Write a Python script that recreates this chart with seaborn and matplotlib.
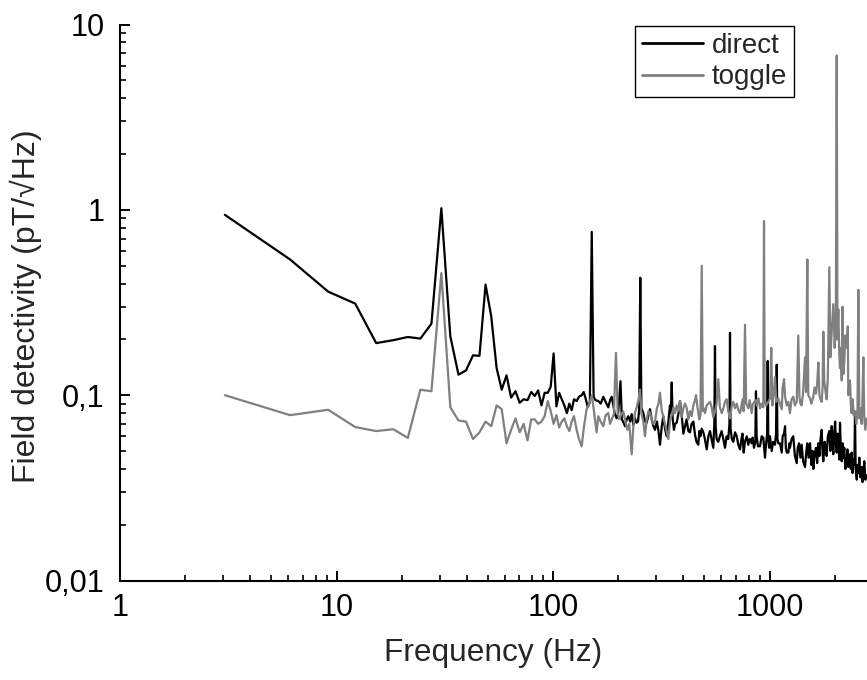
import numpy as np
import pandas as pd
import matplotlib
matplotlib.use("Agg")
import matplotlib.pyplot as plt
import matplotlib.ticker as mticker
import seaborn as sns

# ---------------- data ----------------
freq_direct = [
    3.05, 6.1, 9.15, 12.2, 15.25, 18.3, 21.35, 24.4, 27.45, 30.5, 33.55, 36.6, 39.65, 42.7,
    45.75, 48.8, 51.85, 54.9, 57.95, 61.0, 64.05, 67.1, 70.15, 73.2, 76.25, 79.3, 82.35,
    85.4, 88.45, 91.5, 94.55, 97.6, 100.65, 103.7, 106.75, 109.8, 112.85, 115.9, 119, 122,
    125, 128.6, 131.8, 135.7, 138.6, 141.5, 144.7, 148, 151, 154, 157, 161.9, 166, 170.8,
    175, 180, 183.5, 186.7, 190, 193, 196.8, 200, 205, 208, 212, 215, 219, 222.7, 227, 231,
    234.9, 239, 243, 247, 250, 253, 256, 261.4, 266, 270.9, 276, 280.5, 285.7, 291, 295.9,
    302, 307, 312, 318, 323, 329, 335, 341, 347, 350, 353.5, 357, 362, 366, 372.8, 380, 386,
    393, 400, 407, 414, 422, 429, 437, 445, 453, 460, 469, 474, 480, 486, 494.6, 503, 512.8,
    522, 531, 540, 550, 556, 560, 564, 570, 580, 590, 601, 612, 623, 634, 645, 653, 657, 661,
    670, 680.7, 693, 705.6, 718, 730.8, 742, 750, 760, 770, 785, 798, 810, 827, 836, 848,
    860, 866, 872, 885, 904, 920, 936, 953, 965, 975, 981, 987, 996, 1005, 1024, 1040, 1060,
    1072, 1080, 1088, 1098, 1118, 1139, 1150, 1167, 1180, 1190, 1201, 1222, 1235, 1243, 1265,
    1288, 1310, 1336, 1350, 1370, 1390, 1408, 1430, 1459, 1480, 1495, 1515, 1539, 1560, 1580,
    1594, 1615, 1640, 1660, 1681, 1700, 1720, 1742, 1760, 1772, 1800, 1820, 1837, 1860, 1889,
    1910, 1938, 1955, 1971, 1990, 2010, 2030, 2044, 2060, 2079, 2100, 2117, 2135, 2156, 2175,
    2193, 2215, 2240, 2273, 2290, 2312, 2330, 2354, 2375, 2397, 2420, 2445, 2465, 2483, 2500,
    2530, 2550, 2572, 2600, 2630, 2667, 2690, 2713, 2740, 2770, 2812,
]
val_direct = [
    0.94, 0.54, 0.362, 0.312, 0.191, 0.198, 0.206, 0.202, 0.243, 1.02, 0.208, 0.129, 0.136, 0.164,
    0.163, 0.395, 0.266, 0.140, 0.107, 0.128, 0.097, 0.105, 0.091, 0.095, 0.094, 0.104, 0.099,
    0.106, 0.088, 0.103, 0.103, 0.111, 0.168, 0.087, 0.103, 0.095, 0.088, 0.080, 0.090, 0.083,
    0.095, 0.093, 0.098, 0.100, 0.104, 0.096, 0.086, 0.092, 0.76, 0.098, 0.094, 0.093, 0.090, 0.098,
    0.092, 0.086, 0.094, 0.098, 0.088, 0.079, 0.075, 0.080, 0.119, 0.074, 0.071, 0.068, 0.074, 0.077, 0.072, 0.079,
    0.069, 0.075, 0.071, 0.072, 0.083, 0.43, 0.085, 0.080, 0.072, 0.071, 0.078, 0.084, 0.074, 0.068, 0.065,
    0.072, 0.064, 0.054, 0.068, 0.077, 0.066, 0.060, 0.072, 0.088, 0.080, 0.117, 0.075, 0.065, 0.070, 0.071, 0.080, 0.093,
    0.078, 0.062, 0.068, 0.074, 0.064, 0.063, 0.070, 0.072, 0.061, 0.056, 0.054, 0.064, 0.060, 0.066, 0.063, 0.058, 0.051,
    0.060, 0.064, 0.058, 0.052, 0.070, 0.184, 0.068, 0.058, 0.056, 0.060, 0.064, 0.058, 0.052, 0.060, 0.058, 0.070, 0.217, 0.066,
    0.058, 0.056, 0.063, 0.060, 0.054, 0.051, 0.058, 0.062, 0.049, 0.056, 0.060, 0.054, 0.058, 0.055, 0.059, 0.052,
    0.056, 0.105, 0.060, 0.053, 0.053, 0.060, 0.059, 0.046, 0.055, 0.062, 0.153, 0.060, 0.052, 0.060, 0.050, 0.056, 0.054,
    0.062, 0.146, 0.058, 0.055, 0.055, 0.049, 0.060, 0.062, 0.068, 0.052, 0.049, 0.049, 0.055, 0.052, 0.058,
    0.060, 0.047, 0.043, 0.052, 0.055, 0.046, 0.054, 0.044, 0.041, 0.050, 0.055, 0.046, 0.055, 0.042, 0.050,
    0.040, 0.048, 0.052, 0.043, 0.055, 0.047, 0.058, 0.065, 0.048, 0.044, 0.056, 0.050, 0.047, 0.060, 0.064,
    0.050, 0.068, 0.056, 0.048, 0.062, 0.072, 0.052, 0.049, 0.062, 0.058, 0.045, 0.071, 0.050, 0.044, 0.055,
    0.046, 0.052, 0.040, 0.043, 0.051, 0.041, 0.048, 0.046, 0.040, 0.049, 0.038, 0.045, 0.042, 0.080, 0.040,
    0.035, 0.042, 0.038, 0.046, 0.036, 0.041, 0.034, 0.037, 0.044, 0.035, 0.037,
]

freq_toggle = [
    3.05, 6.1, 9.15, 12.2, 15.25, 18.3, 21.35, 24.4, 27.45, 30.5, 33.55, 36.6, 39.65, 42.7,
    45.75, 48.8, 51.85, 54.9, 57.95, 61.0, 64.05, 67.1, 70.15, 73.2, 76.25, 79.3, 82.35,
    85.4, 88.45, 91.5, 94.55, 97.6, 100.65, 103.7, 106.75, 109.8, 112.85, 115.9, 119, 122,
    125, 128.6, 131.8, 135.7, 138.6, 143, 147, 151, 154, 159, 161.9, 166, 170.8, 175, 180,
    183.5, 186.7, 191, 195.4, 199, 202.4, 206, 211, 215, 220.4, 225, 231, 235, 239, 243.6,
    248, 252.3, 256, 261.4, 266, 270.9, 276, 280.5, 285.7, 291, 295.9, 302, 307, 312, 318,
    323, 329, 335, 341, 347, 353, 360, 366, 372.8, 380, 386, 393, 400, 407, 414, 422, 429,
    437, 445, 452.9, 457.7, 465, 474, 480, 486.3, 492, 498, 503.7, 512.8, 522, 531.1, 540.8,
    550, 560, 570, 580.2, 590, 601.5, 612, 623, 634.4, 645, 657.2, 670, 680, 693, 705.6, 718,
    730.8, 742, 752, 760, 770.7, 780, 798, 810, 827.6, 836, 850, 866, 872.9, 890, 903.9, 920,
    936, 943.3, 950, 965, 987.4, 1005, 1019, 1030, 1045, 1060, 1075, 1098, 1118, 1139, 1150,
    1167, 1180, 1201, 1222, 1243, 1265, 1288, 1310, 1336, 1358, 1375, 1390, 1408, 1430, 1459,
    1475, 1495, 1510, 1539, 1560, 1594, 1615, 1640, 1660, 1681, 1700, 1720, 1742, 1760, 1772,
    1790, 1815, 1837, 1860, 1889, 1910, 1938, 1971, 2000, 2025, 2044, 2060, 2079, 2100, 2117,
    2135, 2156, 2175, 2193, 2215, 2240, 2273, 2300, 2312, 2354, 2380, 2397, 2420, 2450, 2483,
    2520, 2550, 2572, 2600, 2630, 2667, 2690, 2713, 2740, 2770, 2812,
]
val_toggle = [
    0.100, 0.078, 0.0834, 0.0673, 0.064, 0.0655, 0.0588, 0.107, 0.105, 0.456, 0.086, 0.073, 0.072, 0.058,
    0.063, 0.072, 0.068, 0.088, 0.084, 0.055, 0.065, 0.075, 0.063, 0.070, 0.057, 0.074, 0.074,
    0.070, 0.072, 0.077, 0.093, 0.082, 0.070, 0.078, 0.067, 0.072, 0.075, 0.068, 0.064, 0.072,
    0.077, 0.065, 0.058, 0.053, 0.066, 0.084, 0.090, 0.100, 0.085, 0.063, 0.077, 0.072, 0.068, 0.078, 0.080,
    0.070, 0.074, 0.079, 0.169, 0.080, 0.074, 0.078, 0.082, 0.074, 0.065, 0.070, 0.048, 0.068, 0.080, 0.086,
    0.094, 0.107, 0.080, 0.072, 0.060, 0.074, 0.082, 0.080, 0.074, 0.070, 0.072, 0.085, 0.090, 0.103, 0.082,
    0.077, 0.070, 0.064, 0.058, 0.072, 0.078, 0.086, 0.080, 0.088, 0.082, 0.093, 0.076, 0.085, 0.090, 0.086, 0.074, 0.082,
    0.077, 0.088, 0.094, 0.100, 0.086, 0.074, 0.078, 0.50, 0.082, 0.085, 0.080, 0.088, 0.090, 0.092, 0.086,
    0.076, 0.082, 0.090, 0.122, 0.086, 0.080, 0.085, 0.092, 0.095, 0.082, 0.075, 0.088, 0.092, 0.085, 0.090, 0.083,
    0.080, 0.088, 0.095, 0.082, 0.24, 0.090, 0.085, 0.094, 0.080, 0.089, 0.092, 0.094, 0.088, 0.096, 0.085, 0.090,
    0.086, 0.87, 0.094, 0.088, 0.092, 0.096, 0.18, 0.088, 0.100, 0.125, 0.092, 0.096, 0.090, 0.084, 0.110,
    0.122, 0.098, 0.088, 0.092, 0.080, 0.095, 0.098, 0.088, 0.092, 0.21, 0.098, 0.090, 0.088, 0.104, 0.16,
    0.104, 0.54, 0.100, 0.096, 0.090, 0.098, 0.110, 0.102, 0.115, 0.15, 0.100, 0.095, 0.092, 0.112, 0.22,
    0.120, 0.104, 0.095, 0.125, 0.49, 0.160, 0.22, 0.31, 0.18, 0.24, 6.8, 0.20, 0.29, 0.17, 0.14,
    0.18, 0.12, 0.30, 0.13, 0.15, 0.21, 0.18, 0.235, 0.10, 0.12, 0.085, 0.080, 0.095, 0.078, 0.082,
    0.070, 0.085, 0.37, 0.075, 0.085, 0.070, 0.10, 0.16, 0.075, 0.065, 0.075,
]

series_labels = ["direct", "toggle"]
series_colors = ["#000000", "#808080"]
x_ticks = [1, 10, 100, 1000]
x_tick_labels = ["1", "10", "100", "1000"]
y_ticks = [0.01, 0.1, 1, 10]
y_tick_labels = ["0,01", "0,1", "1", "10"]
x_label = "Frequency (Hz)"
y_label = "Field detectivity (pT/\u221aHz)"

# ---------------- figure ----------------
sns.set_style("ticks")
plt.rcParams["font.family"] = ["Liberation Sans", "DejaVu Sans"]

W, H = 867, 680
fig = plt.figure(figsize=(W / 100, H / 100), dpi=100)
ax = fig.add_axes([120 / W, (H - 580.5) / H, (W - 120) / W, (580.5 - 24.5) / H])

df_d = pd.DataFrame({"f": freq_direct, "v": val_direct})
df_t = pd.DataFrame({"f": freq_toggle, "v": val_toggle})
sns.lineplot(data=df_d, x="f", y="v", ax=ax, color=series_colors[0], lw=1.6,
             sort=False, estimator=None, label=series_labels[0])
sns.lineplot(data=df_t, x="f", y="v", ax=ax, color=series_colors[1], lw=1.6,
             sort=False, estimator=None, label=series_labels[1])

ax.set_xscale("log")
ax.set_yscale("log")
ax.set_xlim(1, 10 ** ((W - 120) / 216.5))
ax.set_ylim(0.01, 10)

ax.xaxis.set_major_locator(mticker.FixedLocator(x_ticks))
ax.xaxis.set_major_formatter(mticker.FixedFormatter(x_tick_labels))
ax.yaxis.set_major_locator(mticker.FixedLocator(y_ticks))
ax.yaxis.set_major_formatter(mticker.FixedFormatter(y_tick_labels))
ax.xaxis.set_minor_locator(mticker.LogLocator(base=10, subs=np.arange(2, 10)))
ax.yaxis.set_minor_locator(mticker.LogLocator(base=10, subs=np.arange(2, 10)))
ax.xaxis.set_minor_formatter(mticker.NullFormatter())
ax.yaxis.set_minor_formatter(mticker.NullFormatter())

ax.tick_params(which="major", direction="in", length=7.5, width=1.4, labelsize=22,
               colors="black", pad=9)
ax.tick_params(axis="y", which="major", pad=11)
ax.tick_params(which="minor", direction="in", length=4.3, width=1.2, colors="black")
ax.tick_params(axis="y", which="both", left=True, right=False)
ax.tick_params(axis="x", which="both", bottom=True, top=False)

for s in ["top", "right"]:
    ax.spines[s].set_visible(False)
for s in ["left", "bottom"]:
    ax.spines[s].set_linewidth(1.5)
    ax.spines[s].set_color("black")

ax.set_xlabel(x_label, fontsize=22.8, labelpad=11)
ax.set_ylabel(y_label, fontsize=23)
ax.yaxis.set_label_coords((42 - 120) / (W - 120), (580.5 - 306) / 556)

leg = ax.legend(loc="upper right",
                bbox_to_anchor=((794 - 120) / (W - 120), 1 - (26 - 24.5) / 556),
                borderaxespad=0, fontsize=20, frameon=True, fancybox=False,
                edgecolor="black", framealpha=1, handlelength=2.2, handletextpad=0.3,
                labelspacing=0.2, borderpad=0.25)
leg.get_frame().set_linewidth(1.0)
for lh in leg.get_lines():
    lh.set_linewidth(2.0)

fig.savefig("out.png", dpi=100)
